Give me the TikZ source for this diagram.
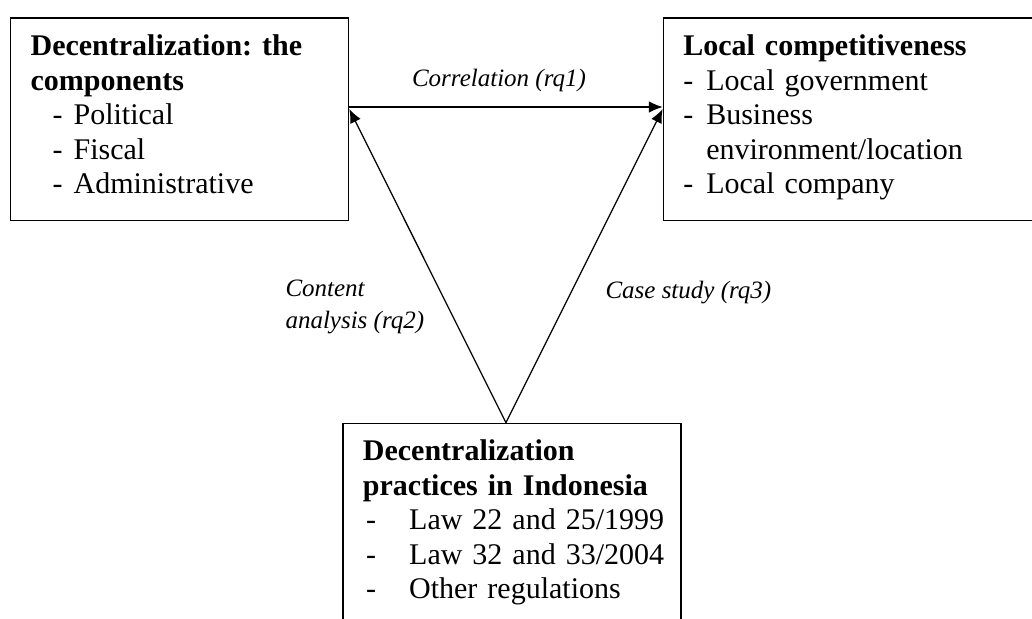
\documentclass[tikz,border=0pt]{standalone}
\usepackage{fontspec}
\setmainfont{Liberation Serif}
\usetikzlibrary{arrows.meta}

% dash item with hanging text
\newcommand{\li}[2]{\mbox{\makebox[#1][l]{-}#2}}

\begin{document}
\frenchspacing
\begin{tikzpicture}[x=0.4pt, y=-0.4pt,
  box/.style={draw, line width=0.5pt, anchor=north west, align=left,
    inner xsep=8pt, inner ysep=0pt, text height=15pt, text depth=66pt,
    font=\fontsize{12}{13.8}\selectfont},
  lbl/.style={inner sep=0pt, anchor=base west, align=left,
    font=\fontsize{10}{12.6}\selectfont\itshape},
  >={Latex[length=5.5pt,width=4.6pt]}]
\useasboundingbox (0,0) rectangle (1032,619);
\clip (0,0) rectangle (1032,619);

\node[box, text width=119.2pt] (comp) at (10,17.5)
  {\textbf{Decentralization: the}\\
   \textbf{components}\\
   \hspace*{8.8pt}\li{8.4pt}{Political}\\
   \hspace*{8.8pt}\li{8.4pt}{Fiscal}\\
   \hspace*{8.8pt}\li{8.4pt}{Administrative}};
\node[box, text width=140pt] (lcomp) at (662.7,17.5)
  {\textbf{Local competitiveness}\\
   \li{9.2pt}{Local government}\\
   \li{9.2pt}{Business}\\
   \hspace*{9.2pt}environment/location\\
   \li{9.2pt}{Local company}};
\node[box, text width=119.2pt, text depth=75pt] (practice) at (342.3,422.7)
  {\textbf{Decentralization}\\
   \textbf{practices in Indonesia}\\
   \hspace*{1.3pt}\li{17.2pt}{Law 22 and 25/1999}\\
   \hspace*{1.3pt}\li{17.2pt}{Law 32 and 33/2004}\\
   \hspace*{1.3pt}\li{17.2pt}{Other regulations}};

\draw[line width=0.5pt, ->]
  ([yshift=-35.8pt]comp.north east) -- ([yshift=-35.8pt]lcomp.north west)
  node[midway, above=6pt, xshift=-2.8pt, inner sep=0pt,
       font=\fontsize{10}{12.6}\selectfont\itshape] (corr) {Correlation (rq1)};
\draw[line width=0.5pt, ->]
  ([xshift=-2.4pt]practice.north) -- ([yshift=-36.6pt]comp.north east);
\draw[line width=0.5pt, ->]
  ([xshift=-2.4pt]practice.north) -- ([yshift=-36.6pt]lcomp.north west);

\node[lbl] (content) at (285,328) {Content\\analysis (rq2)};
\node[lbl] (casestudy) at (605,298) {Case study (rq3)};
\end{tikzpicture}
\end{document}
